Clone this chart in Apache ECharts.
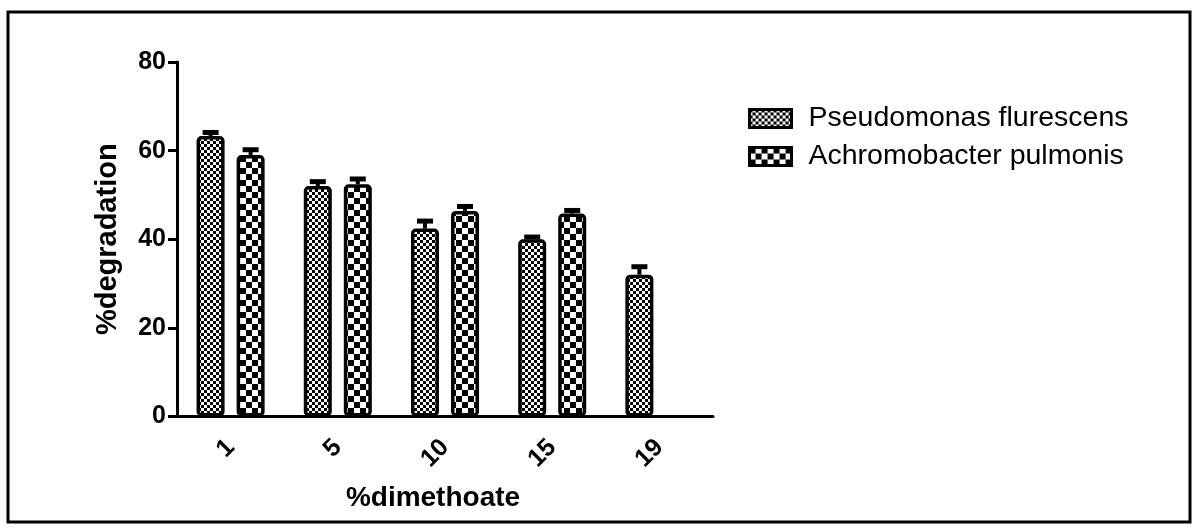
<!DOCTYPE html>
<html>
<head>
<meta charset="utf-8">
<script src="https://cdn.jsdelivr.net/npm/echarts@6/dist/echarts.min.js"></script>
<style>
html,body{margin:0;padding:0;background:#fff;}
#chart{width:1199px;height:531px;}
</style>
</head>
<body>
<div id="chart"></div>
<script>
// ---- data ----
const categories = ['1', '5', '10', '15', '19'];
const seriesNames = ['Pseudomonas flurescens', 'Achromobacter pulmonis'];
const pseudoValues = [63.3, 52.0, 42.4, 40.0, 32.0];
const pseudoErrors = [0.8, 1.0, 1.7, 0.5, 1.8];
const achromoValues = [59.0, 52.4, 46.4, 45.8, null];
const achromoErrors = [1.2, 1.2, 1.0, 0.7, null];
const yTicks = [0, 20, 40, 60, 80];

function makePattern(cell) {
  const c = document.createElement('canvas');
  c.width = cell * 2; c.height = cell * 2;
  const ctx = c.getContext('2d');
  ctx.fillStyle = '#ffffff';
  ctx.fillRect(0, 0, c.width, c.height);
  ctx.fillStyle = '#000000';
  ctx.fillRect(0, 0, cell, cell);
  ctx.fillRect(cell, cell, cell, cell);
  return c;
}
const finePattern = { image: makePattern(3), repeat: 'repeat' };
const coarsePattern = { image: makePattern(6), repeat: 'repeat' };

const BAR_OFFSET = 20;

function errData(vals, errs) {
  const out = [];
  vals.forEach((v, i) => { if (v != null) out.push([i, v, errs[i]]); });
  return out;
}

function errRender(offset) {
  return function (params, api) {
    const i = api.value(0), v = api.value(1), e = api.value(2);
    const p0 = api.coord([i, v]);
    const p1 = api.coord([i, v + e]);
    const x = p0[0] + offset;
    return {
      type: 'group',
      children: [
        { type: 'line', shape: { x1: x, y1: p0[1], x2: x, y2: p1[1] }, style: { stroke: '#000', lineWidth: 4 } },
        { type: 'line', shape: { x1: x - 8, y1: p1[1], x2: x + 8, y2: p1[1] }, style: { stroke: '#000', lineWidth: 5 } }
      ]
    };
  };
}

const chart = echarts.init(document.getElementById('chart'));
const font = '"Liberation Sans", Arial, sans-serif';
chart.setOption({
  animation: false,
  backgroundColor: '#fff',
  graphic: [{
    type: 'rect', shape: { x: 8, y: 12, width: 1182, height: 510 },
    style: { fill: 'none', stroke: '#000', lineWidth: 3 }, silent: true, z: -1
  }],
  grid: { left: 177, right: 486, top: 62, bottom: 114.5, containLabel: false },
  legend: {
    left: 748, top: 104, orient: 'vertical', itemGap: 9, padding: 0,
    itemWidth: 42, itemHeight: 18, icon: 'rect',
    textStyle: { fontFamily: font, fontSize: 28.5, lineHeight: 20, color: '#000', padding: [0, 0, 0, 12] },
    data: [
      { name: seriesNames[0], itemStyle: { color: finePattern, borderColor: '#000', borderWidth: 3 } },
      { name: seriesNames[1], itemStyle: { color: coarsePattern, borderColor: '#000', borderWidth: 3 } }
    ]
  },
  xAxis: {
    type: 'category', data: categories,
    name: '%dimethoate', nameLocation: 'middle', nameGap: 68,
    nameTextStyle: { fontFamily: font, fontWeight: 'bold', fontSize: 28, color: '#000', padding: [0, 24, 0, 0] },
    axisLine: { lineStyle: { color: '#000', width: 3 } },
    axisTick: { alignWithLabel: true, length: 9, lineStyle: { color: '#000', width: 3 } },
    axisLabel: { rotate: 45, margin: 27, fontFamily: font, fontWeight: 'bold', fontSize: 25, color: '#000' }
  },
  yAxis: {
    type: 'value', min: 0, max: 80, interval: 20,
    name: '%degradation', nameLocation: 'middle', nameGap: 55,
    nameTextStyle: { fontFamily: font, fontWeight: 'bold', fontSize: 29, color: '#000' },
    axisLine: { show: true, lineStyle: { color: '#000', width: 3 } },
    axisTick: { show: true, length: 9, lineStyle: { color: '#000', width: 3 } },
    axisLabel: { margin: 11, fontFamily: font, fontWeight: 'bold', fontSize: 25, color: '#000',
      formatter: v => yTicks.includes(v) ? String(v) : '' },
    splitLine: { show: false }
  },
  series: [
    {
      name: seriesNames[0], type: 'bar', data: pseudoValues, barWidth: 28, barGap: '43%',
      itemStyle: { color: finePattern, borderColor: '#000', borderWidth: 3.5, borderRadius: 3 }
    },
    {
      name: seriesNames[1], type: 'bar', data: achromoValues, barWidth: 28, barGap: '43%',
      itemStyle: { color: coarsePattern, borderColor: '#000', borderWidth: 3.5, borderRadius: 3 }
    },
    {
      type: 'custom', renderItem: errRender(-BAR_OFFSET), data: errData(pseudoValues, pseudoErrors),
      encode: { x: 0, y: 1 }, z: 5, silent: true
    },
    {
      type: 'custom', renderItem: errRender(BAR_OFFSET), data: errData(achromoValues, achromoErrors),
      encode: { x: 0, y: 1 }, z: 5, silent: true
    }
  ]
});
</script>
</body>
</html>
